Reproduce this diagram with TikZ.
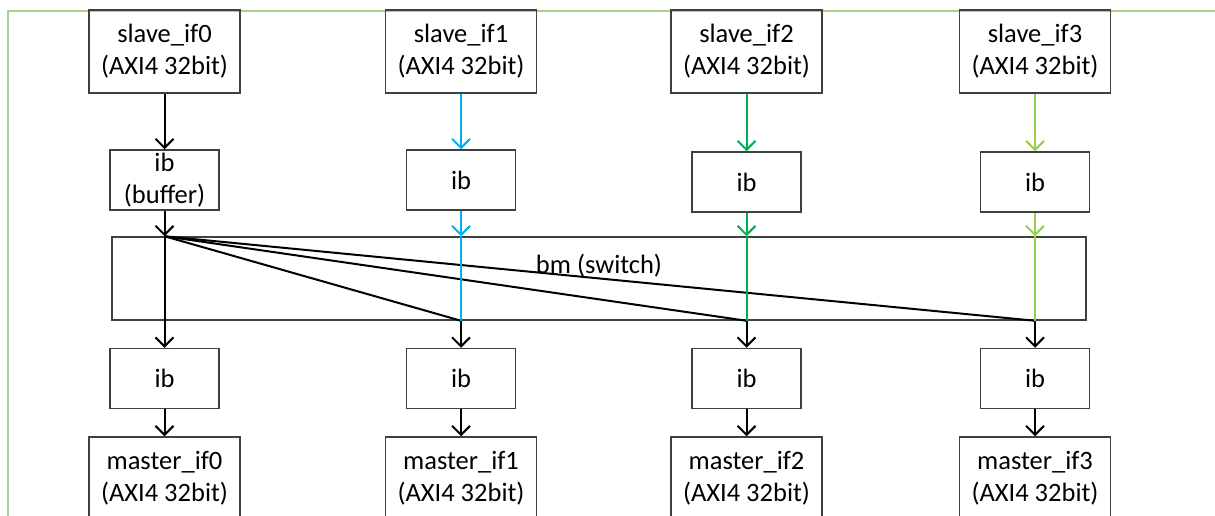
\documentclass[tikz,border=0pt]{standalone}
\usepackage{fontspec}
\setmainfont{Carlito}
\usetikzlibrary{arrows.meta}
\definecolor{ifblue}{HTML}{00B0F0}
\definecolor{ifgreen}{HTML}{00B050}
\definecolor{iflime}{HTML}{92D050}
\definecolor{framegreen}{HTML}{A9D18E}

\begin{document}
\begin{tikzpicture}[x=1pt,y=-1pt,
        >={Straight Barb[length=9pt,width=18pt]},
        box/.style={draw=black!75,line width=1.5pt,align=center,inner sep=0pt,font=\fontsize{26.5}{32}\selectfont},
        ifbox/.style={box,minimum width=151pt,minimum height=83pt},
        ibbox/.style={box,minimum width=109pt,minimum height=60pt},
        link/.style={line width=2pt}]

        \clip (0,0) rectangle (1215,516);
        \draw[framegreen,line width=1.2pt] (1215,11) -- (8,11) -- (8,516);

        %SLAVES
        \node[ifbox] (slave0) at (164.5,51.5) {slave\_if0\\(AXI4 32bit)};
        \node[ifbox] (slave1) at (461,51.5) {slave\_if1\\(AXI4 32bit)};
        \node[ifbox] (slave2) at (746.5,51.5) {slave\_if2\\(AXI4 32bit)};
        \node[ifbox] (slave3) at (1035,51.5) {slave\_if3\\(AXI4 32bit)};

        %Input buffers
        \node[ibbox] (ibin0) at (164.5,180) {ib\\(buffer)};
        \node[ibbox] (ibin1) at (461,180) {ib};
        \node[ibbox] (ibin2) at (746.5,182) {ib};
        \node[ibbox] (ibin3) at (1035,182) {ib};

        %BM switch
        \node[box,minimum width=974pt,minimum height=83pt] (bm) at (599,278.5) {};
        \node[font=\fontsize{26.5}{32}\selectfont] (bmlabel) at (599,266) {bm (switch)};
        \coordinate (bmin0) at (bm.north -| slave0.south);
        \coordinate (bmin1) at (bm.north -| slave1.south);
        \coordinate (bmin2) at (bm.north -| slave2.south);
        \coordinate (bmin3) at (bm.north -| slave3.south);
        \coordinate (bmout0) at (bm.south -| slave0.south);
        \coordinate (bmout1) at (bm.south -| slave1.south);
        \coordinate (bmout2) at (bm.south -| slave2.south);
        \coordinate (bmout3) at (bm.south -| slave3.south);

        %Output buffers
        \node[ibbox] (ibout0) at (164.5,378.5) {ib};
        \node[ibbox] (ibout1) at (461,378.5) {ib};
        \node[ibbox] (ibout2) at (746.5,378.5) {ib};
        \node[ibbox] (ibout3) at (1035,378.5) {ib};

        %MASTERS
        \node[ifbox] (master0) at (164.5,478.5) {master\_if0\\(AXI4 32bit)};
        \node[ifbox] (master1) at (461,478.5) {master\_if1\\(AXI4 32bit)};
        \node[ifbox] (master2) at (746.5,478.5) {master\_if2\\(AXI4 32bit)};
        \node[ifbox] (master3) at (1035,478.5) {master\_if3\\(AXI4 32bit)};

        \draw[link,->] (slave0) -- (ibin0);
        \draw[link,->,ifblue] (slave1) -- (ibin1);
        \draw[link,->,ifgreen] (slave2) -- (ibin2);
        \draw[link,->,iflime] (slave3) -- (ibin3);

        \draw[link] (bmin0) -- (bmout0);
        \draw[link] (bmin0) -- (bmout1);
        \draw[link] (bmin0) -- (bmout2);
        \draw[link] (bmin0) -- (bmout3);

        \draw[link,->] (ibin0) -- (bmin0);
        \draw[link,->,ifblue] (ibin1) -- (bmin1);
        \draw[link,->,ifgreen] (ibin2) -- (bmin2);
        \draw[link,->,iflime] (ibin3) -- (bmin3);
        \draw[link,ifblue] (bmin1) -- (bmout1);
        \draw[link,ifgreen] (bmin2) -- (bmout2);
        \draw[link,iflime] (bmin3) -- (bmout3);

        \draw[link,->] (bmout0) -- (ibout0);
        \draw[link,->] (bmout1) -- (ibout1);
        \draw[link,->] (bmout2) -- (ibout2);
        \draw[link,->] (bmout3) -- (ibout3);

        \draw[link,->] (ibout0) -- (master0);
        \draw[link,->] (ibout1) -- (master1);
        \draw[link,->] (ibout2) -- (master2);
        \draw[link,->] (ibout3) -- (master3);
    \end{tikzpicture}
\end{document}
